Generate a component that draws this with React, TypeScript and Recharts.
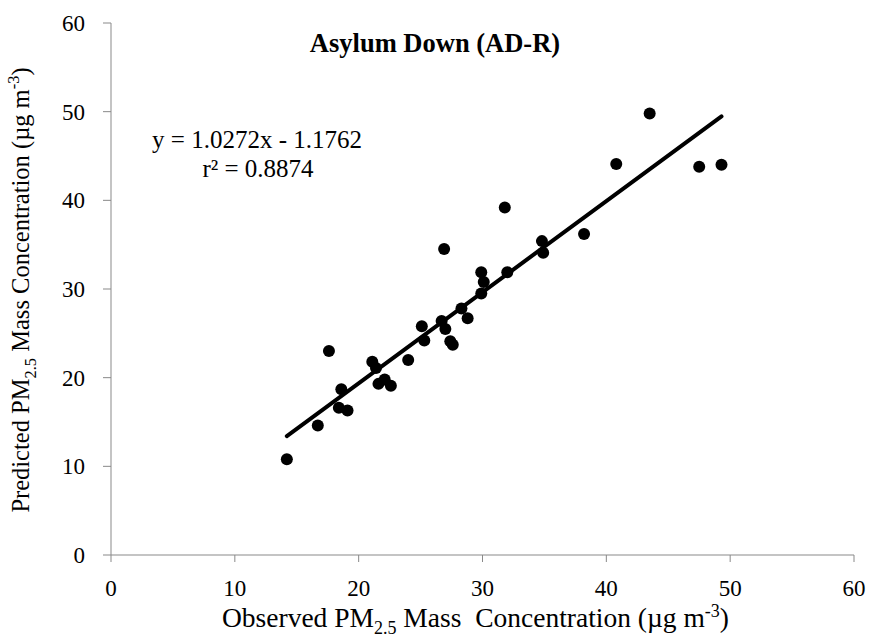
import React from "react";
import {
  ScatterChart,
  Scatter,
  XAxis,
  YAxis,
  Label,
  ReferenceLine,
  Customized,
} from "recharts";

const observed = [
  14.2, 16.7, 18.4, 19.1, 18.6, 17.6, 21.1, 21.4, 21.6, 22.1, 22.6, 24.0, 25.1,
  25.3, 26.7, 27.0, 27.4, 27.6, 28.3, 28.8, 26.9, 29.9, 30.1, 29.9, 32.0, 31.8,
  34.8, 34.9, 38.2, 40.8, 43.5, 47.5, 49.3,
];
const predicted = [
  10.8, 14.6, 16.6, 16.3, 18.7, 23.0, 21.8, 21.1, 19.3, 19.8, 19.1, 22.0, 25.8,
  24.2, 26.4, 25.5, 24.1, 23.7, 27.8, 26.7, 34.5, 31.9, 30.8, 29.5, 31.9, 39.2,
  35.4, 34.1, 36.2, 44.1, 49.8, 43.8, 44.0,
];
const ticks = [0, 10, 20, 30, 40, 50, 60];

const slope = 1.0272;
const intercept = -1.1762;

const points = observed.map((x, i) => ({ x, y: predicted[i] }));
const xMin = Math.min(...observed);
const xMax = Math.max(...observed);
const trend = [
  { x: xMin, y: slope * xMin + intercept },
  { x: xMax, y: slope * xMax + intercept },
];

const FONT = "Liberation Serif, Times New Roman, serif";
const AXIS = "#898989";

const XTick = (props: any) => (
  <text
    x={props.x}
    y={props.y + 16}
    textAnchor="middle"
    fill="#000"
    fontFamily={FONT}
    fontSize={23}
  >
    {props.payload.value}
  </text>
);

const YTick = (props: any) => (
  <text
    x={props.x}
    y={props.y + 8}
    textAnchor="end"
    fill="#000"
    fontFamily={FONT}
    fontSize={23}
  >
    {props.payload.value}
  </text>
);

const XTitle = (props: any) => {
  const vb = props.viewBox;
  const cx = vb.x + vb.width / 2 - 7;
  return (
    <text
      x={cx}
      y={627}
      textAnchor="middle"
      fontFamily={FONT}
      fontSize={27.5}
      fill="#000"
      style={{ whiteSpace: "pre" }}
    >
      Observed PM
      <tspan fontSize={18} dy={7}>2.5</tspan>
      <tspan dy={-7}> Mass  Concentration (µg m</tspan>
      <tspan fontSize={18} dy={-10}>-3</tspan>
      <tspan dy={10}>)</tspan>
    </text>
  );
};

const YTitle = () => {
  const x = 29;
  const y = 290;
  return (
    <text
      x={x}
      y={y}
      transform={`rotate(-90 ${x} ${y})`}
      textAnchor="middle"
      fontFamily={FONT}
      fontSize={24.5}
      fill="#000"
    >
      Predicted PM
      <tspan fontSize={16.5} dy={7}>2.5</tspan>
      <tspan dy={-7}> Mass Concentration (µg m</tspan>
      <tspan fontSize={16.5} dy={-10}>-3</tspan>
      <tspan dy={10}>)</tspan>
    </text>
  );
};

const Notes = () => (
  <g fill="#000">
    <text
      x={435}
      y={52}
      textAnchor="middle"
      fontFamily={FONT}
      fontSize={26.5}
      fontWeight="bold"
    >
      Asylum Down (AD-R)
    </text>
    <text x={257} y={148} textAnchor="middle" fontFamily={FONT} fontSize={25}>
      y = 1.0272x - 1.1762
    </text>
    <text x={258} y={177} textAnchor="middle" fontFamily={FONT} fontSize={25}>
      r² = 0.8874
    </text>
  </g>
);

const Dot = (props: any) => (
  <circle cx={props.cx} cy={props.cy} r={6} fill="#000" />
);

export default function App() {
  return (
    <div style={{ position: "absolute", left: 0, top: 0, background: "#fff" }}>
      <ScatterChart
        width={872}
        height={642}
        margin={{ top: 23, right: 18, bottom: 0, left: 0 }}
      >
        <XAxis
          type="number"
          dataKey="x"
          domain={[0, 60]}
          ticks={ticks}
          height={87}
          stroke={AXIS}
          tickSize={7}
          tickMargin={18}
          tick={XTick}
          tickLine={{ stroke: AXIS }}
          axisLine={{ stroke: AXIS }}
        >
          <Label content={XTitle} />
        </XAxis>
        <YAxis
          type="number"
          dataKey="y"
          domain={[0, 60]}
          ticks={ticks}
          width={111}
          stroke={AXIS}
          tickSize={8}
          tickMargin={18}
          tick={YTick}
          tickLine={{ stroke: AXIS }}
          axisLine={{ stroke: AXIS }}
        >
          <Label content={YTitle} />
        </YAxis>
        <ReferenceLine
          segment={trend}
          stroke="#000"
          strokeWidth={4}
          strokeLinecap="round"
          ifOverflow="visible"
        />
        <Scatter
          data={points}
          fill="#000"
          shape={Dot}
          isAnimationActive={false}
        />
        <Customized component={Notes} />
      </ScatterChart>
    </div>
  );
}
